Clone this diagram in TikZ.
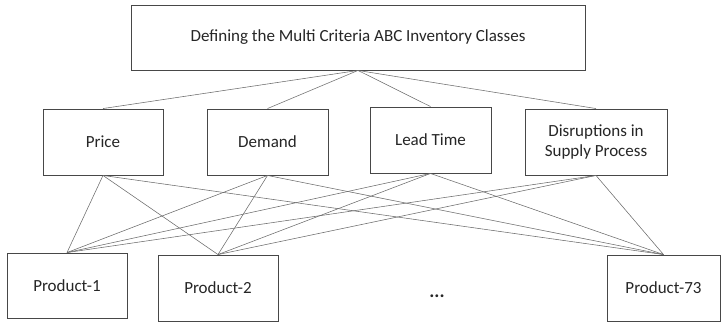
\documentclass[tikz,border=0pt]{standalone}
\usepackage{fontspec}
\setmainfont{Carlito}
\begin{document}
\begin{tikzpicture}[x=1pt, y=-1pt,
  box/.style={draw=black!72, line width=0.9pt, fill=white, inner sep=0pt,
    align=center, font=\fontsize{17}{20}\selectfont, text=black!85},
  link/.style={draw=black!58, line width=0.55pt}]
  \useasboundingbox (0,0) rectangle (721,324);

  % goal
  \node[box, minimum width=454pt, minimum height=65pt] (goal) at (358,37.5)
    {Defining the Multi Criteria ABC Inventory Classes};

  % criteria
  \node[box, minimum width=120pt, minimum height=66pt] (price) at (103,142) {Price};
  \node[box, minimum width=121pt, minimum height=66pt] (demand) at (267.5,142) {Demand};
  \node[box, minimum width=121pt, minimum height=66pt] (lead) at (430.5,140) {Lead Time};
  \node[box, minimum width=142pt, minimum height=66pt] (disr) at (596,142)
    {Disruptions in\\Supply Process};

  % alternatives
  \node[box, minimum width=120pt, minimum height=65pt] (p1) at (67,285.5) {Product-1};
  \node[box, minimum width=120pt, minimum height=66pt] (p2) at (218,288) {Product-2};
  \node[box, minimum width=113pt, minimum height=66pt] (p73) at (663.5,288) {Product-73};
  \node[font=\fontsize{19}{22}\selectfont\bfseries, text=black!85] (dots) at (437,296) {...};

  % goal to criteria
  \foreach \c in {price,demand,lead,disr}
    \draw[link] (goal.south) -- (\c.north);
  % criteria to alternatives
  \foreach \c in {price,demand,lead,disr}
    \foreach \p in {p1,p2,p73}
      \draw[link] (\c.south) -- (\p.north);
\end{tikzpicture}
\end{document}
